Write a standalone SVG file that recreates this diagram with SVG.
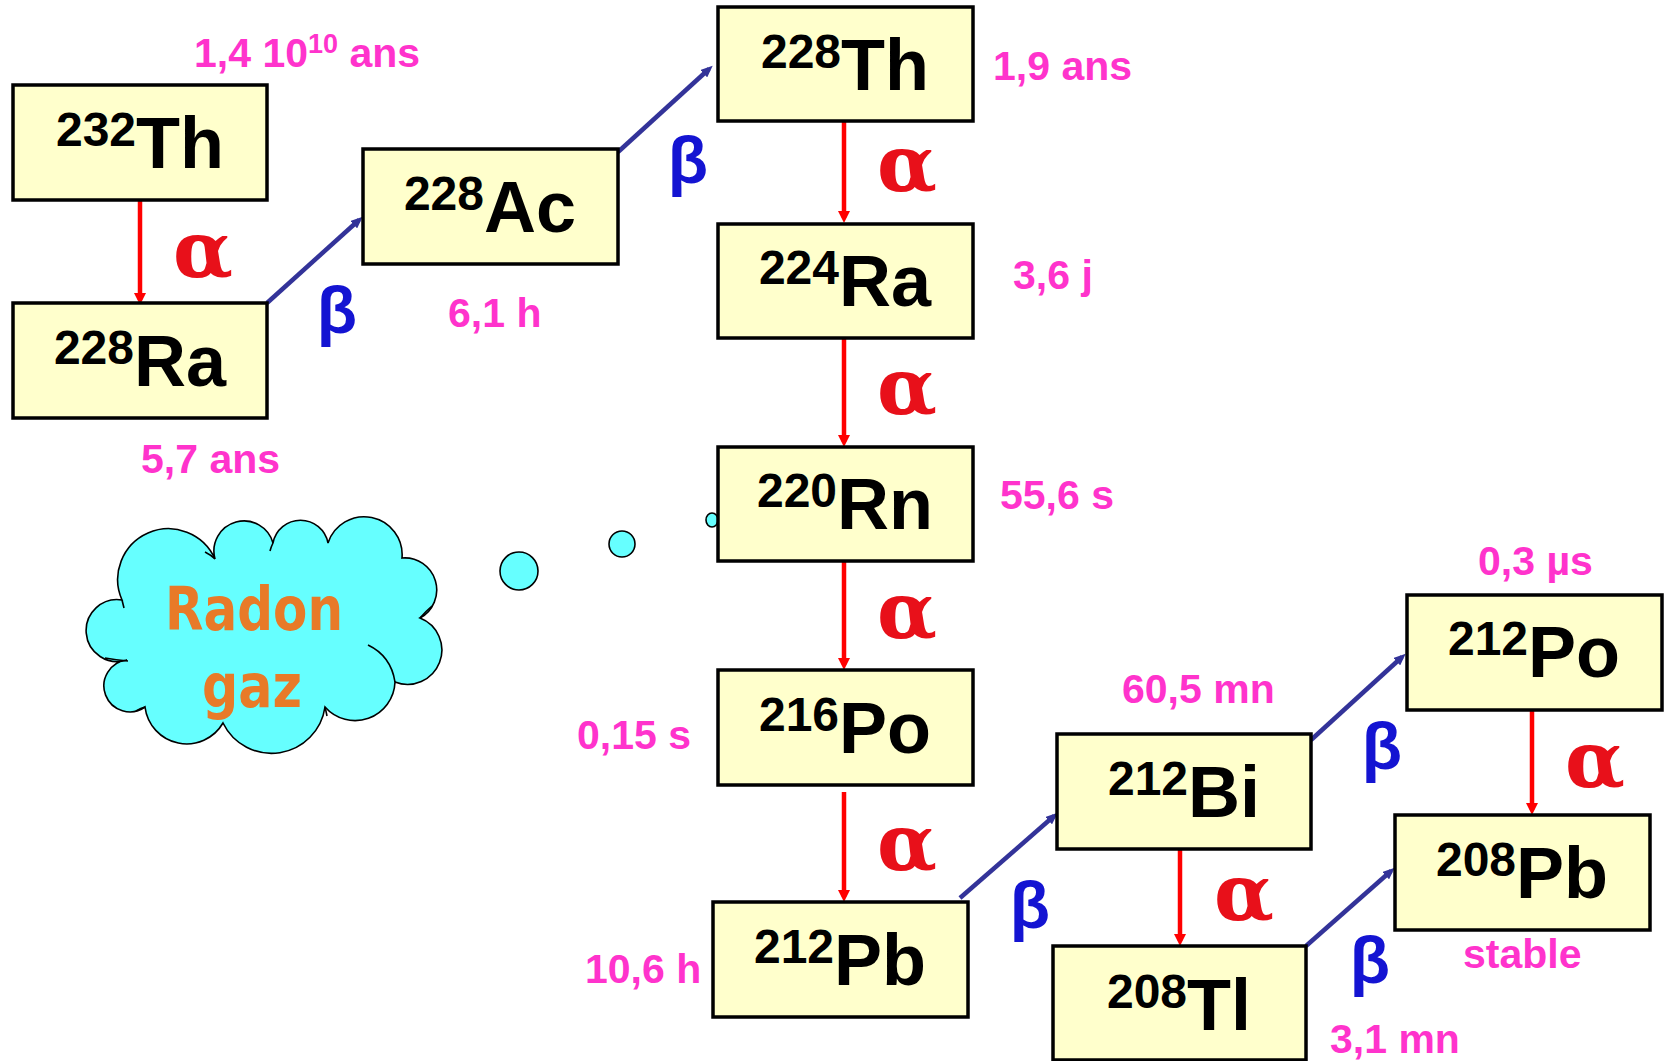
<svg xmlns="http://www.w3.org/2000/svg" width="1667" height="1061" viewBox="0 0 1667 1061">
<style>
.box{fill:#FFFFCC;stroke:#000;stroke-width:3.5}
.lbl{font-family:"Liberation Sans",Arial,sans-serif;font-weight:bold;fill:#000;text-anchor:middle}
.sup{font-size:48px}
.el{font-size:72px}
.hl{font-family:"Liberation Sans",Arial,sans-serif;font-weight:bold;font-size:41px;fill:#FF33CC}
.a{font-family:"DejaVu Serif","Liberation Serif",serif;font-weight:bold;font-size:78px;fill:#E8101A;text-anchor:middle}
.b{font-family:"Liberation Sans",Arial,sans-serif;font-weight:bold;font-size:66px;fill:#1414D2;text-anchor:middle}
.ra{stroke:#FF0000;stroke-width:4.5;fill:none;marker-end:url(#mr)}
.ba{stroke:#333399;stroke-width:4.5;fill:none;marker-end:url(#mb)}
.gas{fill:#66FFFF;stroke:#000;stroke-width:1.6}
.inner{fill:none;stroke:#000;stroke-width:1.6}
.cl{font-family:"Comic Sans MS","DejaVu Sans",sans-serif;font-weight:bold;font-size:60px;fill:#E87A28}
</style>
<defs>
<marker id="mr" markerUnits="userSpaceOnUse" viewBox="0 0 12 12" markerWidth="12" markerHeight="12" refX="7" refY="6" orient="auto"><path d="M0,0 L12,6 L0,12 z" fill="#FF0000"/></marker>
<marker id="mb" markerUnits="userSpaceOnUse" viewBox="0 0 12 10" markerWidth="12" markerHeight="10" refX="7" refY="5" orient="auto"><path d="M0,0 L12,5 L0,10 z" fill="#333399"/></marker>
</defs>

<g id="cloud">
<path class="gas" d="M122,600 A50,50 0 0 1 215,559 A28,28 0 0 1 273,543 A28,28 0 0 1 328,543 A38,38 0 0 1 402,558 A32,32 0 0 1 420,618 A34,34 0 0 1 395,682 A40,40 0 0 1 325,707 A54,54 0 0 1 223,723 A42,42 0 0 1 145,707 A26,26 0 1 1 127,660 A31,31 0 1 1 122,600 Z"/>
<path class="inner" d="M205,552 Q211,555 215,559 M273,543 Q271,547 270,551 M420,618 Q426,611 432,606 M368,645 Q391,656 395,682 M325,707 Q326,711 327,716 M145,707 Q141,708 136,711 M105,658 Q116,660 128,661 M122,600 Q123,604 124,608"/>
<text class="cl" x="165" y="630" textLength="178" lengthAdjust="spacingAndGlyphs">Radon</text>
<text class="cl" x="202" y="707" textLength="100" lengthAdjust="spacingAndGlyphs">gaz</text>
</g>
<g id="bubbles">
<circle class="gas" cx="519" cy="571" r="19"/>
<circle class="gas" cx="622" cy="544" r="13"/>
<ellipse class="gas" cx="712" cy="520" rx="6" ry="7"/>
</g>

<g id="connectors">
<line class="ra" x1="140" y1="200" x2="140" y2="300"/>
<line class="ra" x1="844" y1="114" x2="844" y2="218"/>
<line class="ra" x1="844" y1="338" x2="844" y2="442"/>
<line class="ra" x1="844" y1="560" x2="844" y2="665"/>
<line class="ra" x1="844" y1="792" x2="844" y2="897"/>
<line class="ra" x1="1180" y1="843" x2="1180" y2="941"/>
<line class="ra" x1="1532" y1="710" x2="1532" y2="810"/>
<line class="ba" x1="267" y1="303" x2="359" y2="220"/>
<line class="ba" x1="618" y1="152" x2="709" y2="69"/>
<line class="ba" x1="960" y1="898" x2="1054" y2="816"/>
<line class="ba" x1="1311" y1="740" x2="1402" y2="657"/>
<line class="ba" x1="1306" y1="946" x2="1391" y2="871"/>
</g>

<g id="n232Th"><rect class="box" x="13" y="85" width="254" height="115"/><text class="lbl" x="140" y="168"><tspan class="sup" dy="-22">232</tspan><tspan class="el" dy="22">Th</tspan></text></g>
<g id="n228Ra"><rect class="box" x="13" y="303" width="254" height="115"/><text class="lbl" x="140" y="386"><tspan class="sup" dy="-22">228</tspan><tspan class="el" dy="22">Ra</tspan></text></g>
<g id="n228Ac"><rect class="box" x="363" y="149" width="255" height="115"/><text class="lbl" x="490" y="232"><tspan class="sup" dy="-22">228</tspan><tspan class="el" dy="22">Ac</tspan></text></g>
<g id="n228Th"><rect class="box" x="718" y="7" width="255" height="114"/><text class="lbl" x="845" y="90"><tspan class="sup" dy="-22">228</tspan><tspan class="el" dy="22">Th</tspan></text></g>
<g id="n224Ra"><rect class="box" x="718" y="224" width="255" height="114"/><text class="lbl" x="845" y="306"><tspan class="sup" dy="-22">224</tspan><tspan class="el" dy="22">Ra</tspan></text></g>
<g id="n220Rn"><rect class="box" x="718" y="447" width="255" height="114"/><text class="lbl" x="845" y="529"><tspan class="sup" dy="-22">220</tspan><tspan class="el" dy="22">Rn</tspan></text></g>
<g id="n216Po"><rect class="box" x="718" y="670" width="255" height="115"/><text class="lbl" x="845" y="753"><tspan class="sup" dy="-22">216</tspan><tspan class="el" dy="22">Po</tspan></text></g>
<g id="n212Pb"><rect class="box" x="713" y="902" width="255" height="115"/><text class="lbl" x="840" y="985"><tspan class="sup" dy="-22">212</tspan><tspan class="el" dy="22">Pb</tspan></text></g>
<g id="n212Bi"><rect class="box" x="1057" y="734" width="254" height="115"/><text class="lbl" x="1184" y="817"><tspan class="sup" dy="-22">212</tspan><tspan class="el" dy="22">Bi</tspan></text></g>
<g id="n208Tl"><rect class="box" x="1053" y="946" width="253" height="114"/><text class="lbl" x="1179" y="1030"><tspan class="sup" dy="-22">208</tspan><tspan class="el" dy="22">Tl</tspan></text></g>
<g id="n212Po"><rect class="box" x="1407" y="595" width="255" height="115"/><text class="lbl" x="1534" y="677"><tspan class="sup" dy="-22">212</tspan><tspan class="el" dy="22">Po</tspan></text></g>
<g id="n208Pb"><rect class="box" x="1395" y="815" width="255" height="115"/><text class="lbl" x="1522" y="898"><tspan class="sup" dy="-22">208</tspan><tspan class="el" dy="22">Pb</tspan></text></g>

<g id="decay-labels">
<text class="a" x="203" y="277">α</text>
<text class="a" x="907" y="191">α</text>
<text class="a" x="907" y="414">α</text>
<text class="a" x="907" y="638">α</text>
<text class="a" x="907" y="870">α</text>
<text class="a" x="1244" y="920">α</text>
<text class="a" x="1595" y="787">α</text>
<text class="b" x="337" y="333">β</text>
<text class="b" x="688" y="183">β</text>
<text class="b" x="1030" y="928">β</text>
<text class="b" x="1382" y="769">β</text>
<text class="b" x="1370" y="983">β</text>
</g>

<g id="half-lives">
<text class="hl" x="194" y="67">1,4 10<tspan font-size="27px" dy="-14">10</tspan><tspan dy="14"> ans</tspan></text>
<text class="hl" x="141" y="473">5,7 ans</text>
<text class="hl" x="448" y="327">6,1 h</text>
<text class="hl" x="993" y="80">1,9 ans</text>
<text class="hl" x="1013" y="289">3,6 j</text>
<text class="hl" x="1000" y="509">55,6 s</text>
<text class="hl" x="577" y="749">0,15 s</text>
<text class="hl" x="585" y="983">10,6 h</text>
<text class="hl" x="1122" y="703">60,5 mn</text>
<text class="hl" x="1478" y="575">0,3 µs</text>
<text class="hl" x="1463" y="968">stable</text>
<text class="hl" x="1330" y="1053">3,1 mn</text>
</g>
</svg>
